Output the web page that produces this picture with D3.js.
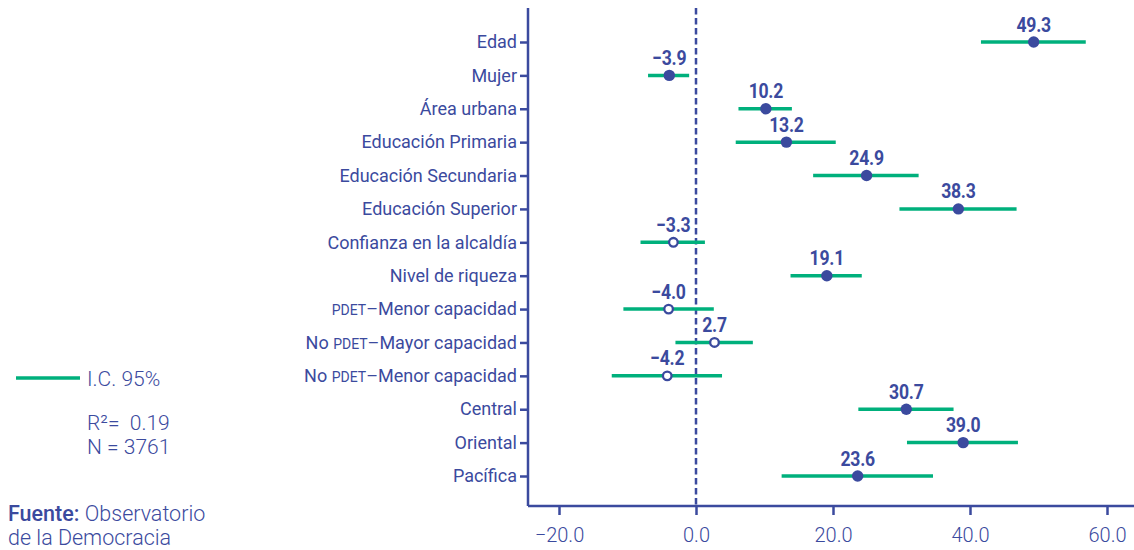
<!DOCTYPE html>
<html>
<head>
<meta charset="utf-8">
<script src="https://cdn.jsdelivr.net/npm/d3@7"></script>
<style>
  body { margin: 0; background: #fff; }
  svg { font-family: Roboto, "Noto Sans", sans-serif; }
</style>
</head>
<body>
<div id="chart"></div>
<script>
// chart size
const width = 1134;
const height = 550;
const margin = {left: 528, right: 27, top: 8, bottom: 44};

const navy = "#3b4a9e";
const green = "#00b07c";

// data
const categories = [
  "Edad", "Mujer", "Área urbana", "Educación Primaria", "Educación Secundaria",
  "Educación Superior", "Confianza en la alcaldía", "Nivel de riqueza",
  "PDET–Menor capacidad", "No PDET–Mayor capacidad", "No PDET–Menor capacidad",
  "Central", "Oriental", "Pacífica"
];
const estimates = [49.3, -3.9, 10.2, 13.2, 24.9, 38.3, -3.3, 19.1, -4.0, 2.7, -4.2, 30.7, 39.0, 23.6];
const ciLow  = [41.6, -7.0, 6.2, 5.8, 17.1, 29.7, -8.1, 13.8, -10.6, -3.0, -12.3, 23.7, 30.8, 12.5];
const ciHigh = [56.9, -1.0, 14.0, 20.4, 32.5, 46.8, 1.3, 24.2, 2.6, 8.3, 3.8, 37.6, 47.0, 34.6];
// significant = filled dot, otherwise open dot
const significant = [true, true, true, true, true, true, false, true, false, false, false, true, true, true];
const xTicks = [-20, 0, 20, 40, 60];

const data = categories.map((c, i) => ({
  name: c, est: estimates[i], lo: ciLow[i], hi: ciHigh[i], sig: significant[i]
}));

const svg = d3.select("#chart")
  .append("svg")
  .attr("width", width)
  .attr("height", height);

// scales: -20 sits at x=559 and 60 at x=1107
const pxPerUnit = (1107 - 559) / 80;
const xScale = d3.scaleLinear()
  .domain([-20 - (559 - margin.left) / pxPerUnit, 60])
  .range([margin.left, 1107]);

const yScale = d3.scalePoint()
  .domain(categories)
  .range([42, 476]);

const x0 = xScale(0);

// zero line
svg.append("line")
  .attr("x1", x0).attr("x2", x0)
  .attr("y1", margin.top).attr("y2", height - margin.bottom)
  .attr("stroke", navy)
  .attr("stroke-width", 2.5)
  .attr("stroke-dasharray", "6.5,3.5");

// y axis
const yAxis = svg.append("g")
  .attr("transform", `translate(${margin.left},0)`)
  .call(d3.axisLeft(yScale).tickSize(8).tickPadding(3));

yAxis.select(".domain")
  .attr("d", `M0,${margin.top}V${height - margin.bottom}`)
  .attr("stroke", navy).attr("stroke-width", 2.5);
yAxis.selectAll(".tick line").attr("stroke", navy).attr("stroke-width", 2.5);
yAxis.selectAll(".tick text")
  .attr("fill", navy)
  .attr("font-size", "18px")
  .attr("font-family", "Roboto, sans-serif")
  .each(function(d) {
    if (d.indexOf("PDET") < 0) return;
    const t = d3.select(this).text(null);
    const parts = d.split("PDET");
    if (parts[0]) t.append("tspan").text(parts[0]);
    t.append("tspan").attr("font-size", "14px").text("PDET");
    t.append("tspan").text(parts[1]);
  });

// x axis
const xAxis = svg.append("g")
  .attr("transform", `translate(0,${height - margin.bottom})`)
  .call(d3.axisBottom(xScale).tickValues(xTicks).tickSize(9).tickPadding(13)
    .tickFormat(d => (d < 0 ? "−" : "") + Math.abs(d).toFixed(1)));

xAxis.select(".domain")
  .attr("d", `M${margin.left},0H${width}`)
  .attr("stroke", navy).attr("stroke-width", 2.5);
xAxis.selectAll(".tick line").attr("stroke", navy).attr("stroke-width", 2.5);
xAxis.selectAll(".tick text")
  .attr("fill", navy)
  .attr("font-size", "20px")
  .attr("font-weight", 300)
  .attr("font-family", "Roboto, sans-serif");

// confidence intervals
svg.selectAll(".ci")
  .data(data)
  .enter()
  .append("line")
    .attr("class", "ci")
    .attr("x1", d => xScale(d.lo))
    .attr("x2", d => xScale(d.hi))
    .attr("y1", d => yScale(d.name))
    .attr("y2", d => yScale(d.name))
    .attr("stroke", green)
    .attr("stroke-width", 3.5);

// estimate dots
svg.selectAll(".dot")
  .data(data)
  .enter()
  .append("circle")
    .attr("class", "dot")
    .attr("cx", d => xScale(d.est))
    .attr("cy", d => yScale(d.name))
    .attr("r", d => d.sig ? 5.7 : 4.3)
    .attr("fill", d => d.sig ? navy : "#fff")
    .attr("stroke", navy)
    .attr("stroke-width", d => d.sig ? 0 : 2.3);

// value labels (condensed bold look)
svg.selectAll(".val")
  .data(data)
  .enter()
  .append("text")
    .attr("class", "val")
    .attr("transform", d => `translate(${xScale(d.est)},${yScale(d.name) - 10.5}) scale(0.84,1)`)
    .attr("text-anchor", "middle")
    .attr("fill", navy)
    .attr("font-size", "21px")
    .attr("font-weight", 700)
    .attr("letter-spacing", "-0.3px")
    .text(d => (d.est < 0 ? "−" : "") + Math.abs(d.est).toFixed(1));

// legend
svg.append("line")
  .attr("x1", 16).attr("x2", 80)
  .attr("y1", 378).attr("y2", 378)
  .attr("stroke", green).attr("stroke-width", 3.5);

const legendText = svg.append("g")
  .attr("fill", navy)
  .attr("font-size", "21px")
  .attr("font-weight", 300)
  .style("white-space", "pre");

legendText.append("text").attr("x", 87).attr("y", 386).text("I.C. 95%");
legendText.append("text").attr("x", 87).attr("y", 430).text("R²=\u00a0 0.19");
legendText.append("text").attr("x", 87).attr("y", 454).text("N = 3761");

// source note
const src = svg.append("text")
  .attr("x", 8).attr("y", 521)
  .attr("fill", navy)
  .attr("font-size", "21.5px");
src.append("tspan").attr("font-weight", 500).text("Fuente: ");
src.append("tspan").attr("font-weight", 300).text("Observatorio");
svg.append("text")
  .attr("x", 8).attr("y", 545)
  .attr("fill", navy)
  .attr("font-size", "21.5px")
  .attr("font-weight", 300)
  .text("de la Democracia");
</script>
</body>
</html>
